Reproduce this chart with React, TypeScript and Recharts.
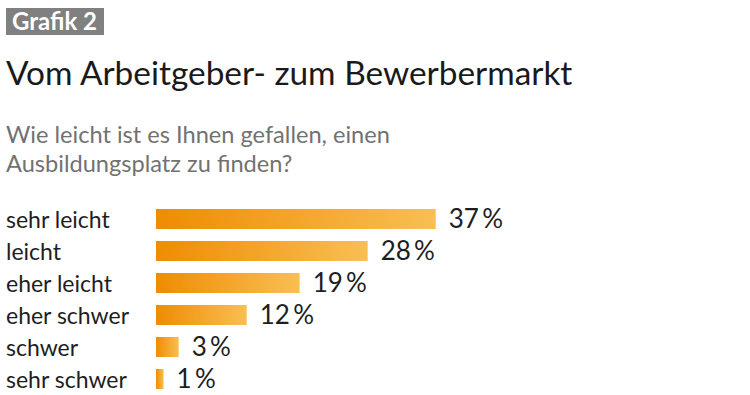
import React from 'react';
import { BarChart, Bar, XAxis, YAxis, LabelList } from 'recharts';

const categories = ['sehr leicht', 'leicht', 'eher leicht', 'eher schwer', 'schwer', 'sehr schwer'];
const values = [37, 28, 19, 12, 3, 1];
const badgeText = 'Grafik 2';
const titleText = 'Vom Arbeitgeber- zum Bewerbermarkt';
const subtitleLines = ['Wie leicht ist es Ihnen gefallen, einen', 'Ausbildungsplatz zu finden?'];

const data = categories.map((c, i) => ({ name: c, value: values[i] }));
const FONT = 'Lato, "Open Sans", sans-serif';

const CategoryTick = (props: any) => {
  const { y, payload } = props;
  return (
    <text x={6} y={y} dy={9} textAnchor="start" fontFamily={FONT} fontSize={23} fill="#1e1e1e">
      {payload.value}
    </text>
  );
};

export default function App() {
  return (
    <div style={{ position: 'absolute', left: 0, top: 0, width: 750, height: 395, background: '#fff', overflow: 'hidden' }}>
      <svg width={750} height={395} style={{ position: 'absolute', left: 0, top: 0 }}>
        <rect x={6} y={8} width={98} height={27} fill="#808080" />
        <text x={12} y={30} fontFamily={FONT} fontWeight={700} fontSize={24} fill="#ffffff">{badgeText}</text>
        <text x={6} y={85} fontFamily={FONT} fontWeight={400} fontSize={33.4} fill="#1a1a1a">{titleText}</text>
        <text x={6} y={143} fontFamily={FONT} fontWeight={400} fontSize={23.6} fill="#727272">{subtitleLines[0]}</text>
        <text x={6} y={172} fontFamily={FONT} fontWeight={400} fontSize={23.6} fill="#727272">{subtitleLines[1]}</text>
      </svg>
      <div style={{ position: 'absolute', left: 0, top: 0 }}>
        <BarChart
          width={750}
          height={395}
          data={data}
          layout="vertical"
          margin={{ top: 203, right: 216, bottom: 0, left: 6 }}
          barCategoryGap={6}
        >
          <defs>
            <linearGradient id="barGrad" x1="0" y1="0" x2="1" y2="0">
              <stop offset="0%" stopColor="#EF8C02" />
              <stop offset="100%" stopColor="#F8BF52" />
            </linearGradient>
          </defs>
          <XAxis type="number" domain={[0, 50]} hide />
          <YAxis
            type="category"
            dataKey="name"
            width={150}
            axisLine={false}
            tickLine={false}
            tick={<CategoryTick />}
            interval={0}
          />
          <Bar dataKey="value" fill="url(#barGrad)" barSize={20} isAnimationActive={false}>
            <LabelList
              dataKey="value"
              position="right"
              offset={13}
              formatter={(v: any) => `${v}\u2009%`}
              style={{ fontFamily: FONT, fontSize: 26, fontWeight: 400, fill: '#1e1e1e' }}
            />
          </Bar>
        </BarChart>
      </div>
    </div>
  );
}
